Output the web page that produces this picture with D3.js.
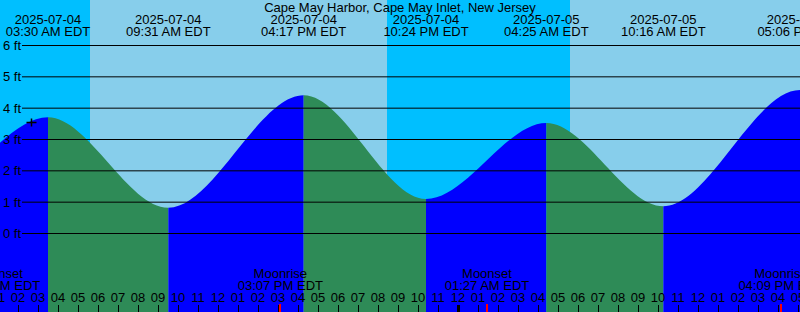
<!DOCTYPE html>
<html lang="en">
	<head>
		<meta charset="utf-8">
		<title>Cape May Harbor tides</title>
		<script src="https://cdn.jsdelivr.net/npm/d3@7"></script>
		<style type="text/css">
			body { margin: 0; }
			svg text {
				font-family: "Liberation Sans", Arial, sans-serif;
				font-size: 13px;
				fill: #000;
			}
		</style>
	</head>
	<body>
		<script type="text/javascript">

			//Chart title
			var title = "Cape May Harbor, Cape May Inlet, New Jersey";

			//Tide extremes (EDT wall clock) and heights in ft
			var tideTimes = ["2025-07-03 15:10", "2025-07-03 21:20", "2025-07-04 03:30", "2025-07-04 09:31", "2025-07-04 16:17",
							 "2025-07-04 22:24", "2025-07-05 04:25", "2025-07-05 10:16", "2025-07-05 17:06", "2025-07-05 23:20"];
			var tideLevels = [4.3, 1.3, 3.71, 0.82, 4.41, 1.10, 3.53, 0.87, 4.58, 1.2];

			//Sunrise / sunset times
			var sunTimes = ["2025-07-04 05:36", "2025-07-04 20:27", "2025-07-05 05:36", "2025-07-05 20:26"];

			//Moon events
			var moonTimes = ["2025-07-04 01:00", "2025-07-04 15:07", "2025-07-05 01:27", "2025-07-05 16:09"];
			var moonEvents = ["Moonset", "Moonrise", "Moonset", "Moonrise"];

			//Height gridlines
			var ftTicks = [0, 1, 2, 3, 4, 5, 6];

			//Current reading marker
			var markerTime = "2025-07-04 02:38";
			var markerLevel = 3.55;

			//Shown time window
			var timeStart = "2025-07-04 01:06";
			var timeEnd = "2025-07-05 17:06";

			var w = 800;
			var h = 312;

			var parse = d3.utcParse("%Y-%m-%d %H:%M");
			var fmtDate = d3.utcFormat("%Y-%m-%d");
			var fmtTime = d3.utcFormat("%I:%M %p EDT");
			var fmtHour = d3.utcFormat("%I");

			var t0 = parse(timeStart);
			var t1 = parse(timeEnd);

			var xScale = d3.scaleUtc().domain([t0, t1]).range([0, w]);
			var yScale = d3.scaleLinear().domain([0, 6]).range([233.5, 45.5]);

			var tides = tideTimes.map(function(t, i) { return { date: parse(t), level: tideLevels[i] }; });

			var svg = d3.select("body").append("svg")
				.attr("width", w)
				.attr("height", h);

			//Day / night background
			var bounds = [t0].concat(sunTimes.map(parse).filter(function(d) { return d > t0 && d < t1; }), [t1]);
			svg.append("g").selectAll("rect")
				.data(d3.pairs(bounds))
				.join("rect")
				.attr("x", function(d) { return xScale(d[0]); })
				.attr("y", 0)
				.attr("width", function(d) { return xScale(d[1]) - xScale(d[0]); })
				.attr("height", h)
				.attr("fill", function(d, i) { return i % 2 === 0 ? "#00bfff" : "#87ceeb"; });

			//Tide area, coloured by rising / falling segment
			var area = d3.area()
				.curve(d3.curveMonotoneX)
				.x(function(d) { return xScale(d.date); })
				.y0(h)
				.y1(function(d) { return yScale(d.level); });

			var segs = d3.pairs(tides);
			var defs = svg.append("defs");
			segs.forEach(function(s, i) {
				defs.append("clipPath")
					.attr("id", "seg" + i)
					.append("rect")
					.attr("x", xScale(s[0].date))
					.attr("y", 0)
					.attr("width", xScale(s[1].date) - xScale(s[0].date))
					.attr("height", h);
				svg.append("path")
					.datum(tides)
					.attr("clip-path", "url(#seg" + i + ")")
					.attr("fill", s[1].level > s[0].level ? "#0000ff" : "#2e8b57")
					.attr("d", area);
			});

			//Height lines and labels
			svg.append("g").selectAll("line")
				.data(ftTicks)
				.join("line")
				.attr("x1", 22).attr("x2", w)
				.attr("y1", function(d) { return yScale(d); })
				.attr("y2", function(d) { return yScale(d); })
				.attr("stroke", "#000");

			svg.append("g").selectAll("text")
				.data(ftTicks)
				.join("text")
				.attr("x", 3)
				.attr("y", function(d) { return yScale(d) + 4.5; })
				.text(function(d) { return d + " ft"; });

			//Title
			svg.append("text")
				.attr("x", w / 2)
				.attr("y", 12)
				.attr("text-anchor", "middle")
				.text(title);

			//High / low time labels
			var shown = tides.filter(function(d) { return d.date >= t0 && d.date <= t1; });
			var tl = svg.append("g").selectAll("g")
				.data(shown)
				.join("g")
				.attr("transform", function(d) { return "translate(" + xScale(d.date) + ",0)"; });
			tl.append("text").attr("y", 24).attr("text-anchor", "middle").text(function(d) { return fmtDate(d.date); });
			tl.append("text").attr("y", 36).attr("text-anchor", "middle").text(function(d) { return fmtTime(d.date); });

			//Hour ticks along the bottom
			var hours = d3.utcHour.range(d3.utcHour.floor(t0), d3.utcHour.offset(t1, 1));
			svg.append("g").selectAll("line")
				.data(hours)
				.join("line")
				.attr("x1", function(d) { return Math.round(xScale(d)) + 0.5; })
				.attr("x2", function(d) { return Math.round(xScale(d)) + 0.5; })
				.attr("y1", 305).attr("y2", h)
				.attr("stroke", "#000")
				.attr("stroke-width", function(d) { return d.getUTCHours() === 0 ? 3 : 1; });

			svg.append("g").selectAll("text")
				.data(hours)
				.join("text")
				.attr("x", function(d) { return xScale(d); })
				.attr("y", 302)
				.attr("text-anchor", "middle")
				.text(function(d) { return fmtHour(d); });

			//Moon events
			var moon = moonTimes.map(function(t, i) { return { date: parse(t), name: moonEvents[i] }; });
			svg.append("g").selectAll("line")
				.data(moon)
				.join("line")
				.attr("x1", function(d) { return Math.round(xScale(d.date)); })
				.attr("x2", function(d) { return Math.round(xScale(d.date)); })
				.attr("y1", 304).attr("y2", h)
				.attr("stroke", "#ff0000")
				.attr("stroke-width", 2);

			var ml = svg.append("g").selectAll("g")
				.data(moon)
				.join("g")
				.attr("transform", function(d) { return "translate(" + xScale(d.date) + ",0)"; });
			ml.append("text").attr("y", 278).attr("text-anchor", "middle").text(function(d) { return d.name; });
			ml.append("text").attr("y", 290).attr("text-anchor", "middle").text(function(d) { return fmtTime(d.date); });

			//Current reading cross
			var mx = Math.round(xScale(parse(markerTime))) + 0.5;
			var my = Math.round(yScale(markerLevel)) + 0.5;
			svg.append("path")
				.attr("d", "M" + (mx - 5) + "," + my + "H" + (mx + 5) + "M" + mx + "," + (my - 4) + "V" + (my + 4))
				.attr("stroke", "#000")
				.attr("stroke-width", 1.5)
				.attr("fill", "none");

		</script>
	</body>
</html>
